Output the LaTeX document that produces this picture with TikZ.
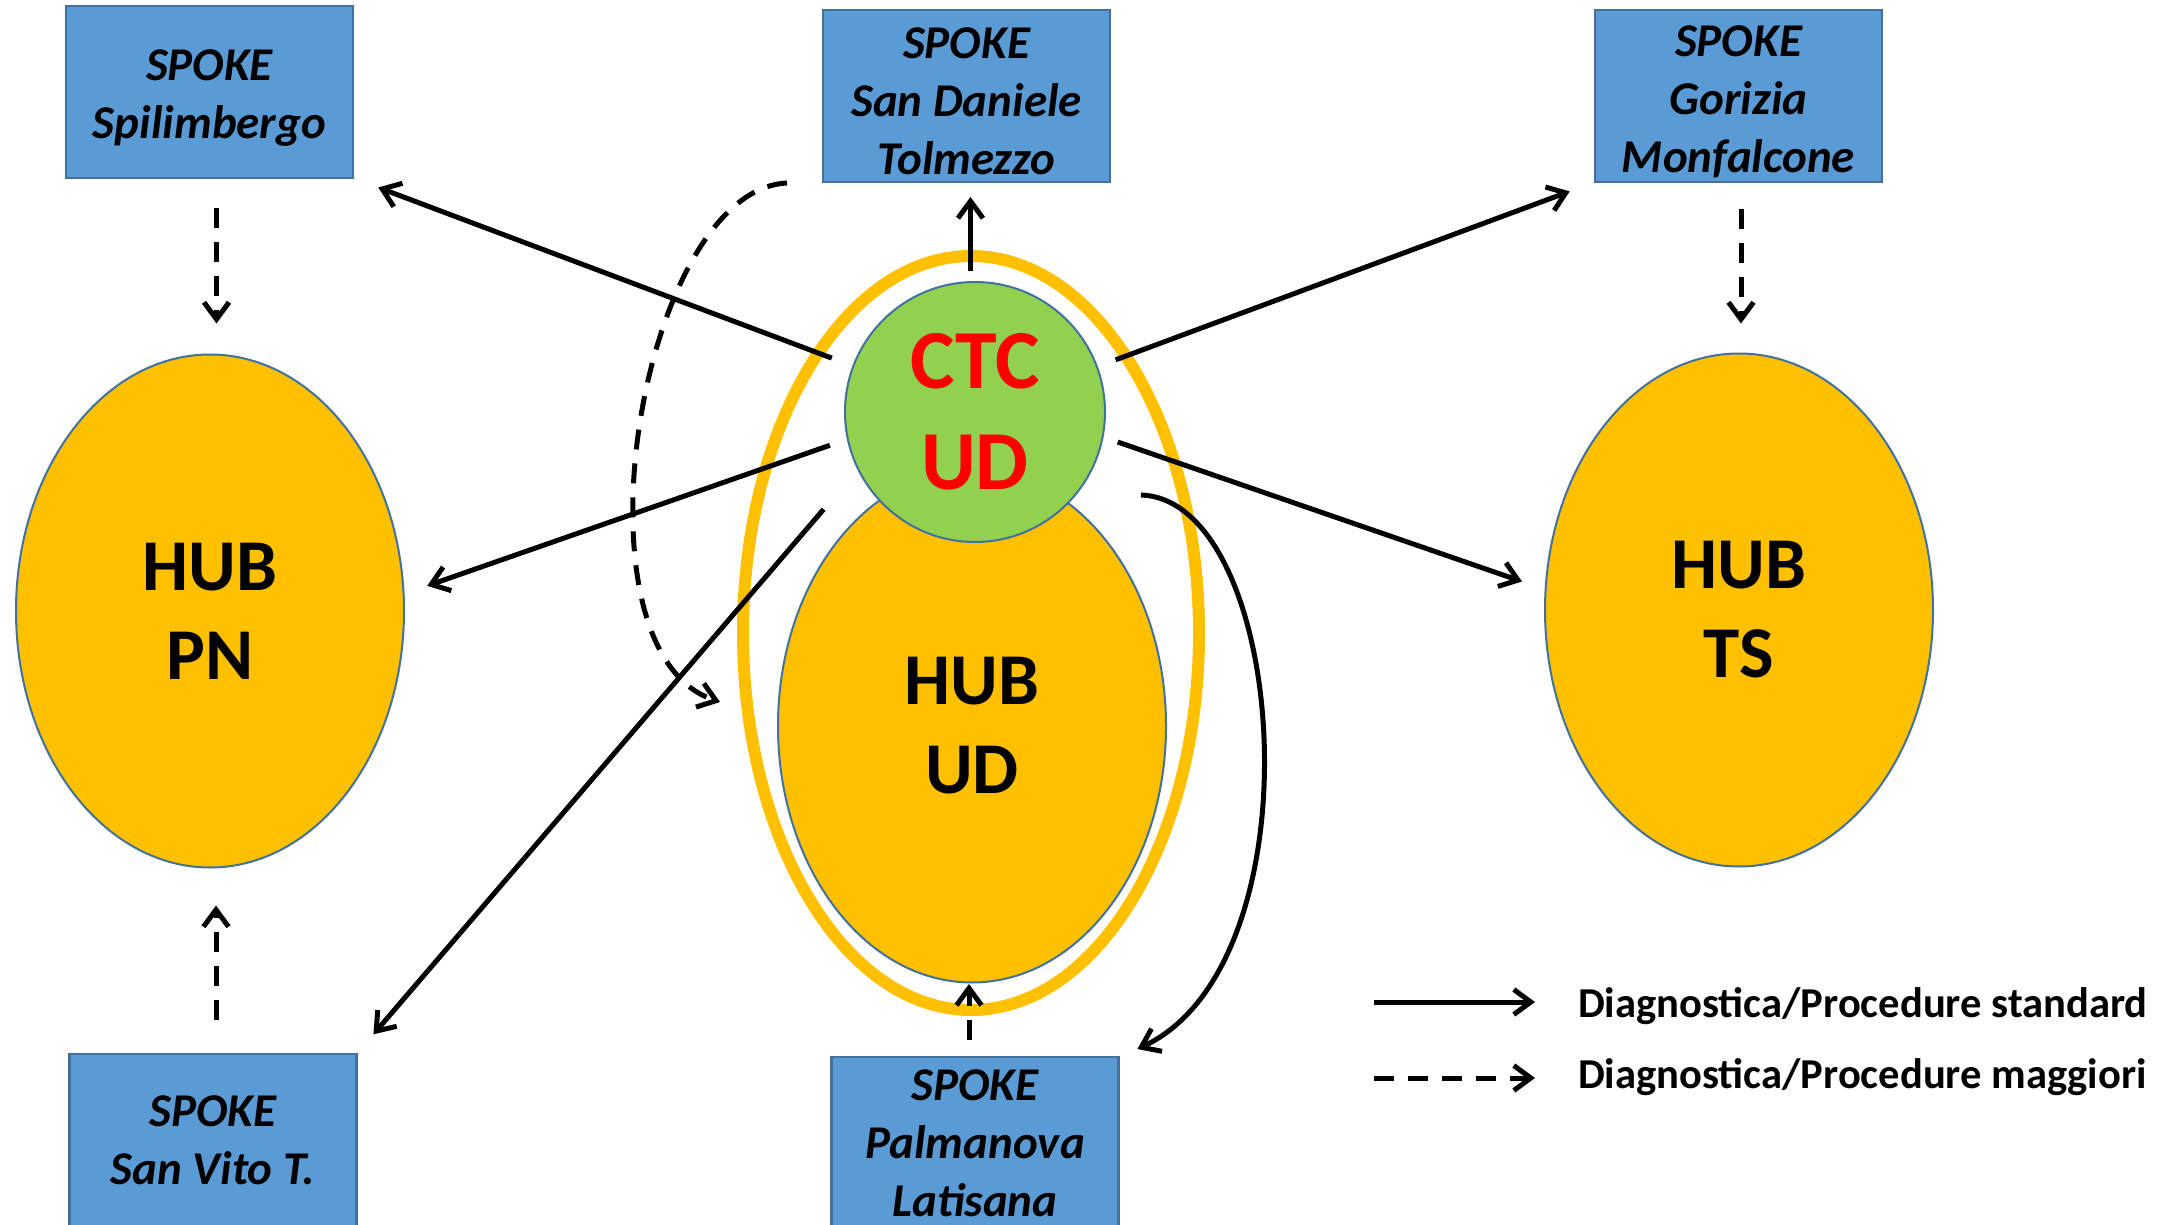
\documentclass[tikz,border=0pt]{standalone}
\usepackage{fontspec}
\setmainfont{Carlito}
\usetikzlibrary{arrows.meta,shapes.geometric,calc}
\definecolor{spokefill}{HTML}{5B9BD5}
\definecolor{spokeline}{HTML}{41719C}
\definecolor{hubfill}{HTML}{FFC000}
\definecolor{ctcfill}{HTML}{92D050}
\definecolor{ctcred}{HTML}{FF0000}
\newcommand{\toppad}{\rule{0pt}{42pt}}
\begin{document}
\begin{tikzpicture}[x=1pt,y=-1pt,
  spoke/.style={rectangle, fill=spokefill, draw=spokeline, line width=2.5pt,
    minimum width=287pt, minimum height=172pt, inner sep=0pt, outer sep=0pt,
    align=center, font=\fontsize{47}{58}\selectfont\bfseries\itshape},
  hub/.style={ellipse, fill=hubfill, draw=spokeline, line width=2pt,
    minimum width=388pt, minimum height=513pt, inner sep=0pt, outer sep=0pt,
    align=center, font=\fontsize{73}{89}\selectfont\bfseries},
  ctcnode/.style={circle, fill=ctcfill, draw=spokeline, line width=2pt,
    minimum size=260pt, inner sep=0pt, outer sep=0pt, align=center,
    text=ctcred, font=\fontsize{84}{101}\selectfont\bfseries},
  ringnode/.style={ellipse, draw=hubfill, line width=12pt,
    minimum width=456pt, minimum height=754pt, inner sep=0pt, outer sep=0pt},
  arr/.style={line width=5pt, -{Straight Barb[length=17pt,width=25pt]}},
  dsh/.style={dash pattern=on 20pt off 14pt},
  legend/.style={inner sep=0pt, outer sep=0pt, font=\fontsize{42.6}{50}\selectfont\bfseries}
]
\useasboundingbox (0,0) rectangle (2176,1225);
\fill[white] (0,0) rectangle (2176,1225);

% shapes
\node[ringnode] (ring) at (971,633) {};
\node[hub] (hubud) at (972,726) {HUB\\UD};
\node[ctcnode] (ctc) at (975,412) {CTC\\UD};
\node[hub] (pn) at (210,611) {HUB\\PN};
\node[hub] (ts) at (1739,610) {HUB\\TS};
\node[spoke] (spil) at (209.5,92) {\toppad SPOKE\\Spilimbergo};
\node[spoke] (sand) at (966.5,96) {\toppad SPOKE\\San Daniele\\Tolmezzo};
\node[spoke] (gor) at (1738.5,96) {\toppad SPOKE\\Gorizia\\Monfalcone};
\node[spoke] (svito) at (213,1140) {SPOKE\\San Vito T.};
\node[spoke] (palm) at (975,1143) {SPOKE\\Palmanova\\Latisana};

% solid connectors
\draw[arr, shorten <=23pt, shorten >=27pt] (ctc) -- (spil.south east);
\draw[arr, shorten <=19pt, shorten >=25pt] (ctc.192) -- (pn.5);
\draw[arr, shorten <=53pt, shorten >=26pt] (ctc.206) -- (svito.north east);
\draw[arr, shorten <=11pt, shorten >=15pt] (ctc.92) -- (ctc.92 |- sand.south);
\draw[arr, shorten <=20pt, shorten >=27pt] (ctc) -- (gor.south west);
\draw[arr, shorten <=16pt, shorten >=25pt] (ctc.349) -- (ts.174);
\draw[arr] ([shift={(166,83)}]ctc.center) .. controls +(147,5) and +(184,-86) .. ([shift={(19,-8)}]palm.north east);

% dashed connectors
\draw[arr, dsh] ([shift={(-36,1)}]sand.south west) .. controls +(-147,7) and +(-155,-52) .. ([shift={(-58,-24)}]hubud.west);
\coordinate (d1) at ([xshift=7pt]spil.south);
\coordinate (d2) at ([xshift=2.5pt]gor.south);
\coordinate (d3) at ([xshift=3pt]svito.north);
\coordinate (d4) at ([xshift=-6pt]palm.north);
\draw[arr, dsh, shorten <=30pt, shorten >=31pt] (d1) -- (d1 |- pn.north);
\draw[arr, dsh, shorten <=27pt, shorten >=30pt] (d2) -- (d2 |- ts.north);
\draw[arr, dsh, shorten <=34pt, shorten >=38pt] (d3) -- (d3 |- pn.south);
\draw[arr, dsh, shorten <=17pt, shorten >=1.5pt] (d4) -- (d4 |- hubud.south);

% legend
\coordinate (l1a) at (1374,1002);
\coordinate (l1b) at (1535,1002);
\coordinate (l2a) at (1374,1078);
\coordinate (l2b) at (1535,1078);
\draw[arr] (l1a) -- (l1b);
\draw[arr, dsh] (l2a) -- (l2b);
\node[legend, anchor=base west] (lt1) at (1578,1017) {Diagnostica/Procedure standard};
\node[legend, anchor=base west] (lt2) at (1578,1088) {Diagnostica/Procedure maggiori};
\end{tikzpicture}
\end{document}
